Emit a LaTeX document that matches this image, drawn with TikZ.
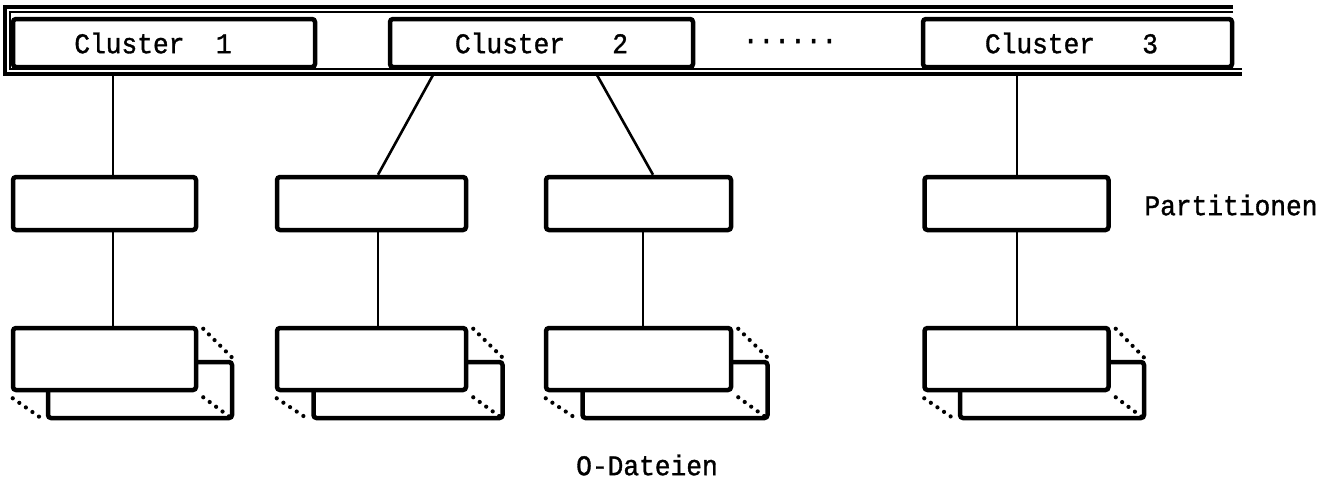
\documentclass[tikz,border=0pt]{standalone}
\usepackage{fontspec}
\setmonofont[FakeStretch=0.92,FakeBold=1.2]{Liberation Mono}
\usetikzlibrary{calc}
\begin{document}
\begin{tikzpicture}[x=1pt,y=-1pt,
  box/.style={draw, line width=4.5pt, rounded corners=3pt, fill=white, inner sep=0pt},
  conn/.style={line width=2.6pt},
  framethick/.style={line width=3.8pt},
  framethin/.style={line width=2pt},
  dotline/.style={line width=4.2pt, line cap=round, dash pattern=on 0pt off 8pt},
  lbl/.style={font=\fontsize{28.5}{32}\selectfont\ttfamily, inner sep=0pt}]
\useasboundingbox (0,0) rectangle (1341,499);
% frame
\draw[framethick] (1233,7) -- (5,7) -- (5,74) -- (1242,74);
\draw[framethin] (1233,12) -- (10,12) -- (10,69) -- (1242,69);
% clusters
\node[box, lbl, minimum width=302pt, minimum height=48pt] (c1) at (164,43) {Cluster~~1\kern22pt\relax};
\node[box, lbl, minimum width=303pt, minimum height=48pt] (c2) at (541.5,43) {Cluster~~~2};
\node[box, lbl, minimum width=309pt, minimum height=48pt] (c3) at (1077.5,43) {Cluster~~~3\kern12pt\relax};
\node[lbl] (dots) at (790,44) {······};
% frame attachment points
\coordinate (f1) at (113,75);
\coordinate (f2a) at (433,75);
\coordinate (f2b) at (597,75);
\coordinate (f3) at (1017,75);
% partitions
\node[box, minimum width=183pt, minimum height=53pt] (p1) at (104.5,203.5) {};
\node[box, minimum width=189pt, minimum height=53pt] (p2) at (371.5,203.5) {};
\node[box, minimum width=185pt, minimum height=53pt] (p3) at (638.5,203.5) {};
\node[box, minimum width=184pt, minimum height=53pt] (p4) at (1016.5,203.5) {};
\coordinate (x1) at (113,0);
\coordinate (x2) at (378,0);
\coordinate (x3) at (643,0);
\coordinate (x3t) at (653,0);
\coordinate (x4) at (1017,0);
\draw[conn] (f1) -- (p1.north -| x1);
\draw[conn] (f2a) -- (p2.north -| x2);
\draw[conn] (f2b) -- (p3.north -| x3t);
\draw[conn] (f3) -- (p4.north -| x4);
\node[lbl] (plbl) at (1231,205) {Partitionen};
% O-files: back boxes
\node[box, minimum width=184pt, minimum height=56pt] (o1b) at (140,390) {};
\node[box, minimum width=189pt, minimum height=56pt] (o2b) at (408,390) {};
\node[box, minimum width=185pt, minimum height=56pt] (o3b) at (675,390) {};
\node[box, minimum width=184pt, minimum height=56pt] (o4b) at (1052,390) {};
% front boxes
\node[box, minimum width=183pt, minimum height=62pt] (o1) at (104.5,359) {};
\node[box, minimum width=189pt, minimum height=62pt] (o2) at (371.5,359) {};
\node[box, minimum width=185pt, minimum height=62pt] (o3) at (638.5,359) {};
\node[box, minimum width=184pt, minimum height=62pt] (o4) at (1016.5,359) {};
\foreach \i in {1,2,3,4}{
  \draw[dotline] ($(o\i.north east)+(5,3)$) -- ($(o\i b.north east)+(-1,-1)$);
  \draw[dotline] ($(o\i.south west)+(2,6)$) -- ($(o\i b.south west)+(-3,-1)$);
  \draw[dotline] ($(o\i.south east)+(5,5)$) -- ($(o\i b.south east)+(-4,-3)$);
}
\draw[conn] (p1.south -| x1) -- (o1.north -| x1);
\draw[conn] (p2.south -| x2) -- (o2.north -| x2);
\draw[conn] (p3.south -| x3) -- (o3.north -| x3);
\draw[conn] (p4.south -| x4) -- (o4.north -| x4);
\node[lbl] (olbl) at (647,465) {O-Dateien};
\end{tikzpicture}
\end{document}
